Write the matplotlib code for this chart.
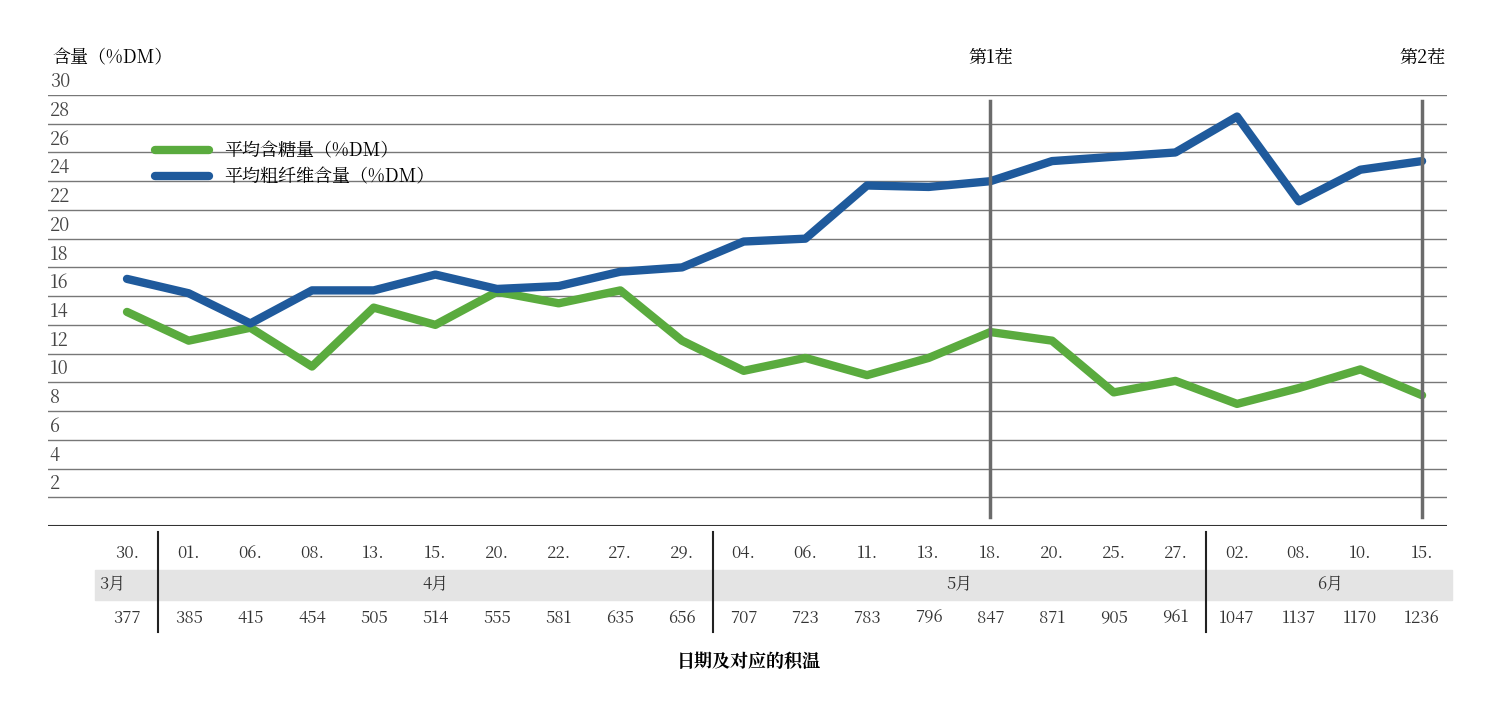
import matplotlib
matplotlib.use("Agg")
import matplotlib.pyplot as plt
from matplotlib import font_manager

cjk = None
for f in font_manager.fontManager.ttflist:
    if 'CJK SC' in f.name or 'CJK' in f.name:
        cjk = f.name
        if 'SC' in f.name:
            break
plt.rcParams['font.family'] = 'sans-serif'
plt.rcParams['font.sans-serif'] = ([cjk] if cjk else []) + ['Noto Sans CJK SC', 'DejaVu Sans']

days = ["30.","01.","06.","08.","13.","15.","20.","22.","27.","29.","04.","06.","11.","13.","18.","20.","25.","27.","02.","08.","10.","15."]
temps = ["377","385","415","454","505","514","555","581","635","656","707","723","783","796","847","871","905","961","1047","1137","1170","1236"]
months = [("3月", 0, 0), ("4月", 1, 9), ("5月", 10, 17), ("6月", 18, 21)]
sugar = [14.9, 12.9, 13.8, 11.1, 15.2, 14.0, 16.3, 15.5, 16.4, 12.9, 10.8, 11.7, 10.5, 11.7, 13.5, 12.9, 9.3, 10.1, 8.5, 9.6, 10.9, 9.1]
fiber = [17.2, 16.2, 14.1, 16.4, 16.4, 17.5, 16.5, 16.7, 17.7, 18.0, 19.8, 20.0, 23.7, 23.6, 24.0, 25.4, 25.7, 26.0, 28.5, 22.6, 24.8, 25.4]
cuts = [(14, "第1茬"), (21, "第2茬")]
yticks = list(range(2, 31, 2))

W, H = 1497, 709
fig = plt.figure(figsize=(W/100, H/100), dpi=100)
top, bot, l, r = 95, 526, 48, 1447
ax = fig.add_axes([l/W, 1-bot/H, (r-l)/W, (bot-top)/H])
px = 61.67
x0 = -(127-l)/px
ax.set_xlim(x0, x0+(r-l)/px)
ax.set_ylim(0, 30)
for s in ax.spines.values():
    s.set_visible(False)
ax.set_xticks([]); ax.set_yticks([])
for t in yticks:
    ax.axhline(t, color='#777777', lw=1)
    ax.text(x0+0.03, t+0.2, str(t), fontsize=13, color='#444444', va='bottom', ha='left')
ax.axhline(0, color='#333333', lw=1.5)
xs = list(range(len(days)))
g, = ax.plot(xs, sugar, color='#5aab3e', lw=6, solid_capstyle='round', solid_joinstyle='round')
b, = ax.plot(xs, fiber, color='#1f5a9c', lw=6, solid_capstyle='round', solid_joinstyle='round')
for i, lab in cuts:
    ax.plot([i, i], [0.6, 29.6], color='#6b6b6b', lw=2.5)
    fig.text((127+i*px)/W, 1-58/H, lab, fontsize=13, ha='center', va='center')
ax.legend([g, b], ["平均含糖量（%DM）", "平均粗纤维含量（%DM）"], loc='upper left',
          bbox_to_anchor=(0.065, 0.93), frameon=False, fontsize=13, handlelength=3, labelspacing=0.3)
fig.text(52/W, 1-58/H, "含量（%DM）", fontsize=13, va='center')

def fx(i):
    return (127+i*px)/W
fig.patches.append(plt.Rectangle((95/W, 1-600/H), (1452-95)/W, 30/H, transform=fig.transFigure, color='#e4e4e4', zorder=0))
for i, d in enumerate(days):
    fig.text(fx(i), 1-553/H, d, ha='center', va='center', fontsize=12, color='#333333')
    fig.text(fx(i), 1-618/H, temps[i], ha='center', va='center', fontsize=12, color='#333333')
for name, a, bb in months:
    if a == bb:
        fig.text(fx(a)-15/W, 1-585/H, name, ha='center', va='center', fontsize=12, color='#333333')
    else:
        fig.text((fx(a)+fx(bb))/2, 1-585/H, name, ha='center', va='center', fontsize=12, color='#333333')
for name, a, bb in months[1:]:
    xx = fx(a-0.5)
    fig.add_artist(plt.Line2D([xx, xx], [1-532/H, 1-632/H], color='#222222', lw=1.5))
fig.text(0.5, 1-662/H, "日期及对应的积温", ha='center', va='center', fontsize=13, fontweight='bold')
fig.savefig("out.png", dpi=100, facecolor='white')
